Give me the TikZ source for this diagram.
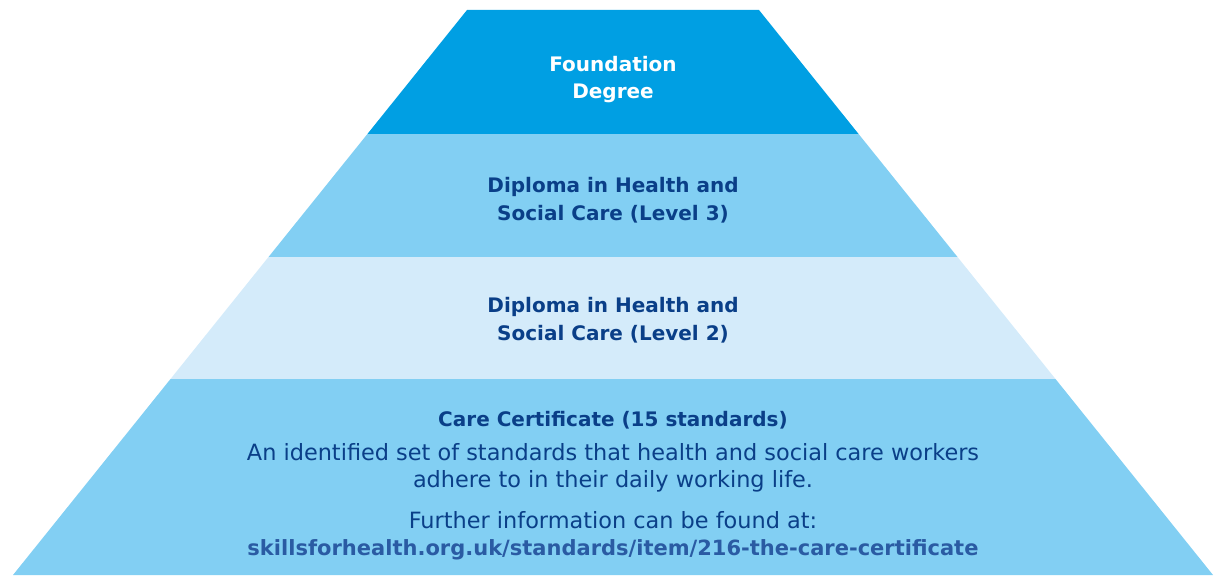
\documentclass[tikz,border=0pt]{standalone}
\usepackage{fontspec}
\setmainfont{DejaVu Sans}
\definecolor{fdblue}{HTML}{009FE3}
\definecolor{midblue}{HTML}{82CFF3}
\definecolor{paleblue}{HTML}{D4EBFA}
\definecolor{navy}{HTML}{0A3F88}
\definecolor{linkblue}{HTML}{2A5BA3}
\tikzset{
	lvltext/.style={align=center, anchor=base, inner sep=0pt, text=navy,
		font=\fontsize{20}{27.5}\selectfont\bfseries},
	bodytext/.style={align=center, anchor=base, inner sep=0pt, text=navy,
		font=\fontsize{22.4}{27}\selectfont}
}
\begin{document}
\begin{tikzpicture}[x=1pt,y=-1pt]
		\useasboundingbox (0,0) rectangle (1214,575);
		% Four bands of the pyramid
		% top band
		\fill[fdblue] (467,10) -- (759,10) -- (858.6,134) -- (367.4,134) -- cycle;
		% second band
		\fill[midblue] (367.4,134) -- (858.6,134) -- (957.5,257) -- (268.5,257) -- cycle;
		% third band
		\fill[paleblue] (268.5,257) -- (957.5,257) -- (1055.5,379) -- (170.5,379) -- cycle;
		% bottom band
		\fill[midblue] (170.5,379) -- (1055.5,379) -- (1213,575) -- (13,575) -- cycle;

		% Labels (placed at the baseline of their last line)
		\node[lvltext, text=white] (fd) at (613,99) {Foundation\\Degree};
		\node[lvltext] (dip3) at (613,220) {Diploma in Health and\\Social Care (Level 3)};
		\node[lvltext] (dip2) at (613,340) {Diploma in Health and\\Social Care (Level 2)};
		\node[lvltext] (cc) at (613,426) {Care Certificate (15 standards)};
		\node[bodytext] (ccbody) at (613,487) {An identified set of standards that health and social care workers\\adhere to in their daily working life.};
		\node[bodytext] (ccmore) at (613,555) {Further information can be found at:\\{\fontsize{21}{26}\selectfont\bfseries\color{linkblue}skillsforhealth.org.uk/standards/item/216-the-care-certificate}};
	\end{tikzpicture}
\end{document}
